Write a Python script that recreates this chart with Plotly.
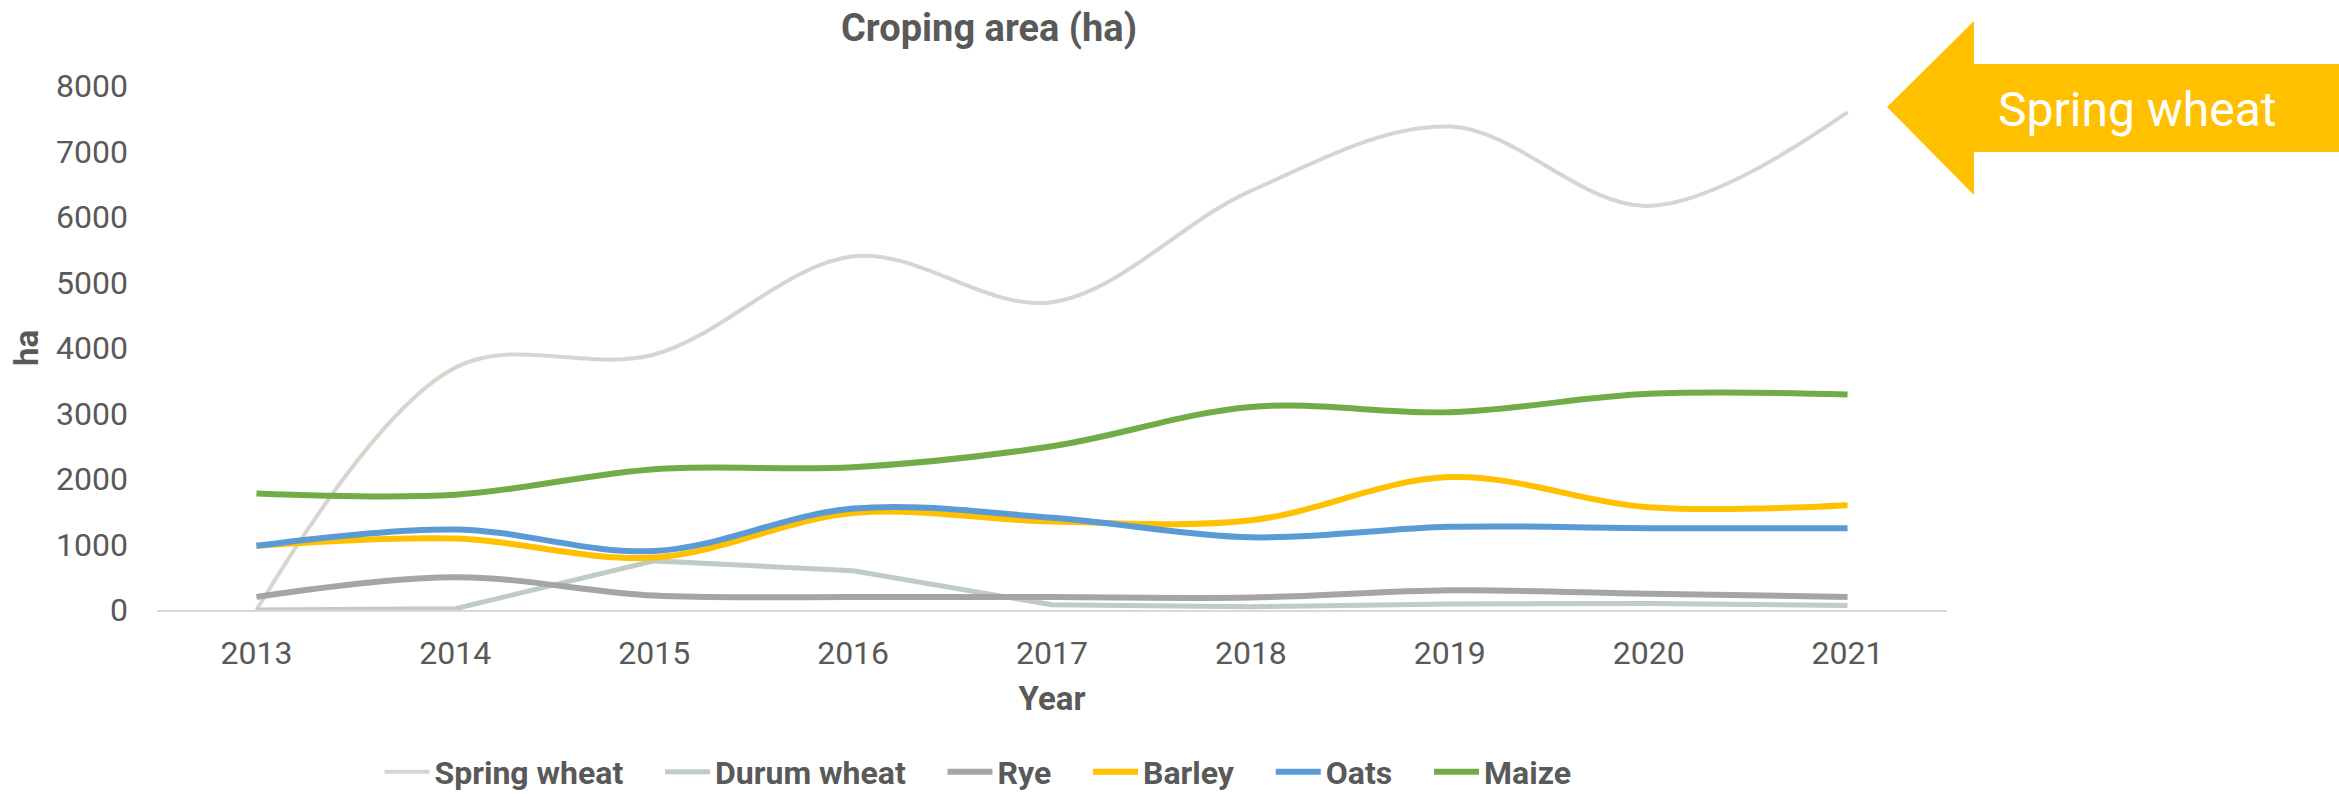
import plotly.graph_objects as go

years = ["2013", "2014", "2015", "2016", "2017", "2018", "2019", "2020", "2021"]
spring_wheat = [0, 3700, 3900, 5400, 4700, 6400, 7380, 6170, 7600]
durum_wheat = [0, 20, 750, 600, 80, 50, 90, 100, 70]
rye = [200, 500, 220, 200, 200, 190, 300, 250, 200]
barley = [980, 1090, 800, 1480, 1350, 1370, 2030, 1570, 1600]
oats = [980, 1230, 900, 1550, 1410, 1110, 1270, 1250, 1250]
maize = [1780, 1760, 2150, 2180, 2500, 3100, 3020, 3300, 3290]

FONT = "Roboto"
GREY = "#595959"

# plot area in pixels (for placing the arrow callout)
W, H = 2339, 794
L, R, T, B = 157, 392, 86, 184


def px_x(p):
    return (p - L) / (W - L - R)


def px_y(p):
    return (H - B - p) / (H - T - B)


series = [
    ("Spring wheat", spring_wheat, "#D9D4CE", 4, "spline"),
    ("Durum wheat", durum_wheat, "#C0CBC2", 5, "linear"),
    ("Rye", rye, "#A5A5A5", 6, "spline"),
    ("Barley", barley, "#FFC000", 6, "spline"),
    ("Oats", oats, "#5B9BD5", 6, "spline"),
    ("Maize", maize, "#70AD47", 6, "spline"),
]

fig = go.Figure()
for i, (name, vals, color, width, shape) in enumerate(series):
    # pad legend entries a bit so the spacing is closer to the Excel legend
    label = name if i == len(series) - 1 else name + "\u00a0" * 4
    fig.add_trace(go.Scatter(
        x=years, y=vals, name=label, mode="lines",
        line=dict(color=color, width=width, shape=shape, smoothing=1.0),
    ))

# arrow callout on the right
ax = [1887, 1974, 1974, 2339, 2339, 1974, 1974]
ay = [107, 21, 64, 64, 152, 152, 195]
path = "M " + " L ".join(f"{px_x(a)},{px_y(b)}" for a, b in zip(ax, ay)) + " Z"
fig.add_shape(type="path", path=path, xref="paper", yref="paper",
              fillcolor="#FFC000", line=dict(width=0), layer="above")
fig.add_annotation(x=px_x(2137), y=px_y(110), xref="paper", yref="paper",
                   xanchor="center", yanchor="middle",
                   text="Spring wheat", showarrow=False,
                   font=dict(family=FONT, size=48, color="white"))

fig.update_layout(
    width=W, height=H,
    paper_bgcolor="white", plot_bgcolor="white",
    margin=dict(l=L, r=R, t=T, b=B, autoexpand=False),
    font=dict(family=FONT, color=GREY, size=32),
    title=dict(text="<b>Croping area (ha)</b>", x=989 / W, xanchor="center",
               y=1 - 28 / H, yref="container", yanchor="middle",
               font=dict(size=38, color=GREY)),
    xaxis=dict(
        type="category", range=[-0.5, 8.5], automargin=False,
        showgrid=False, showline=True, linecolor="#D9D9D9", linewidth=2,
        ticks="", ticklabelstandoff=14,
        title=dict(text="<b>Year</b>", standoff=15, font=dict(size=33)),
    ),
    yaxis=dict(
        range=[0, 8000], dtick=1000, showgrid=False, zeroline=False,
        showline=False, ticks="", ticklabelstandoff=28, automargin=False,
        title=dict(text="<b>ha</b>", standoff=7, font=dict(size=33)),
    ),
    legend=dict(
        orientation="h", x=px_x(978), xanchor="center",
        y=px_y(772), yanchor="middle",
        font=dict(size=32, color=GREY, weight="bold"),
        itemwidth=45, traceorder="normal",
    ),
)

fig.write_html("out.html", config={"displayModeBar": False},
               post_script="document.body.style.margin='0';")
